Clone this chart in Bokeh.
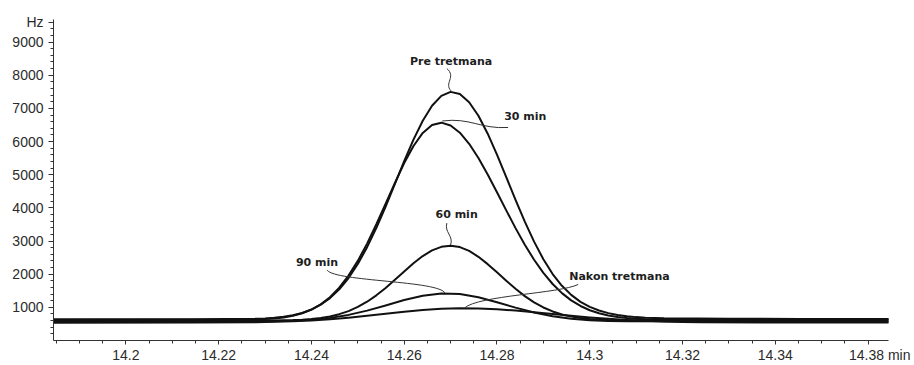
from bokeh.plotting import figure
from bokeh.models import FixedTicker, Range1d
from bokeh.core.properties import value
from bokeh.embed import file_html
from bokeh.resources import INLINE

# ---------------- data ----------------
# retention time (min) / signal (Hz)
pre_x = [14.1844, 14.215, 14.228, 14.230, 14.232, 14.234, 14.236, 14.238, 14.240, 14.242,
         14.244, 14.246, 14.248, 14.250, 14.252, 14.254, 14.256, 14.258, 14.260, 14.262,
         14.264, 14.266, 14.268, 14.270, 14.272, 14.274, 14.276, 14.278, 14.280, 14.282,
         14.284, 14.286, 14.288, 14.290, 14.292, 14.294, 14.296, 14.298, 14.300, 14.302,
         14.304, 14.306, 14.308, 14.310, 14.312, 14.316, 14.330, 14.345, 14.3644]
pre_y = [640, 642, 655, 666, 685, 715, 761, 831, 934, 1079,
         1279, 1544, 1885, 2308, 2814, 3396, 4040, 4722, 5407, 6056,
         6627, 7078, 7377, 7498, 7432, 7185, 6776, 6237, 5607, 4928,
         4242, 3584, 2981, 2451, 2003, 1650, 1375, 1165, 1015, 905,
         825, 770, 730, 705, 688, 668, 655, 650, 648]

m30_x = pre_x
m30_y = [620, 622, 634, 645, 665, 696, 745, 821, 932, 1089,
         1306, 1592, 1956, 2401, 2922, 3506, 4129, 4756, 5350, 5864,
         6259, 6501, 6569, 6483, 6266, 5932, 5504, 5008, 4472, 3924,
         3389, 2888, 2435, 2039, 1704, 1429, 1211, 1041, 913, 820,
         753, 706, 675, 654, 641, 630, 625, 628, 630]

m60_x = [14.1844, 14.215, 14.228, 14.232, 14.236, 14.238, 14.240, 14.242, 14.244, 14.246,
         14.248, 14.250, 14.252, 14.254, 14.256, 14.258, 14.260, 14.262, 14.264, 14.266,
         14.268, 14.270, 14.272, 14.274, 14.276, 14.278, 14.280, 14.282, 14.284, 14.286,
         14.288, 14.290, 14.292, 14.294, 14.296, 14.298, 14.300, 14.302, 14.304, 14.308,
         14.330, 14.345, 14.3644]
m60_y = [600, 600, 601, 605, 616, 628, 648, 679, 726, 794,
         887, 1012, 1170, 1362, 1585, 1830, 2083, 2329, 2546, 2717,
         2825, 2860, 2817, 2702, 2524, 2303, 2055, 1802, 1559, 1339,
         1151, 996, 876, 785, 720, 675, 646, 627, 615, 604,
         600, 600, 600]

m90_x = [14.1844, 14.215, 14.228, 14.232, 14.236, 14.240, 14.244, 14.248, 14.252, 14.256,
         14.260, 14.264, 14.268, 14.272, 14.276, 14.280, 14.284, 14.288, 14.292, 14.296,
         14.300, 14.304, 14.308, 14.330, 14.345, 14.3644]
m90_y = [568, 570, 574, 580, 595, 626, 682, 772, 901, 1057,
         1219, 1350, 1416, 1399, 1302, 1154, 991, 844, 731, 655,
         611, 588, 577, 572, 570, 568]

post_x = [14.1844, 14.215, 14.228, 14.232, 14.236, 14.240, 14.244, 14.248, 14.252, 14.256,
          14.260, 14.264, 14.268, 14.272, 14.276, 14.280, 14.284, 14.288, 14.292, 14.296,
          14.300, 14.304, 14.308, 14.312, 14.316, 14.320, 14.324, 14.340, 14.3644]
post_y = [535, 543, 553, 564, 581, 606, 642, 689, 745, 806,
          866, 919, 955, 970, 963, 939, 901, 852, 799, 746,
          697, 655, 620, 594, 575, 561, 553, 545, 542]

series_x = [pre_x, m30_x, m60_x, m90_x, post_x]
series_y = [pre_y, m30_y, m60_y, m90_y, post_y]
for sx, sy in zip(series_x, series_y):
    assert len(sx) == len(sy)

# annotation texts and their positions (data units)
label_text = ["Pre tretmana", "30 min", "60 min", "90 min", "Nakon tretmana"]
label_x = [14.2701, 14.2861, 14.2713, 14.2412, 14.3064]
label_y = [8412, 6746, 3785, 2364, 1925]

# axis ticks (the reference labels its last tick "14.38"; unit "min" follows it,
# unit "Hz" sits at the top of the y axis)
x_ticks = [14.2, 14.22, 14.24, 14.26, 14.28, 14.3, 14.32, 14.34, 14.36]
x_tick_labels = ["14.2", "14.22", "14.24", "14.26", "14.28", "14.3", "14.32", "14.34", "14.38"]
x_unit = "min"
y_ticks = [1000, 2000, 3000, 4000, 5000, 6000, 7000, 8000, 9000, 9600]
y_tick_labels = ["1000", "2000", "3000", "4000", "5000", "6000", "7000", "8000", "9000", "Hz"]

X_START, X_END = 14.1844, 14.3644
Y_START, Y_END = 0, 9680

TICK_FONT = "Liberation Sans"
TICK_COLOR = "#2b2b2b"
AXIS_COLOR = "#333333"
NBSP = "\u00a0"

p = figure(width=914, height=365, output_backend="svg", toolbar_location=None,
           x_range=Range1d(X_START, X_END), y_range=Range1d(Y_START, Y_END),
           min_border_left=53, min_border_right=26, min_border_top=19, min_border_bottom=0)
p.outline_line_color = None
p.grid.visible = False
p.background_fill_color = "white"
p.border_fill_color = "white"

# x axis
x_minor = [round(14.185 + 0.005 * i, 3) for i in range(36)]
x_labels = list(x_tick_labels)
x_labels[-1] = NBSP * 6 + x_labels[-1] + NBSP + x_unit   # keep number centred on tick
p.xaxis.ticker = FixedTicker(ticks=x_ticks, minor_ticks=x_minor)
p.xaxis.major_label_overrides = dict(zip(x_ticks, x_labels))
# y axis
y_minor = list(range(200, 9680, 200))
p.yaxis.ticker = FixedTicker(ticks=y_ticks, minor_ticks=y_minor)
p.yaxis.major_label_overrides = dict(zip(y_ticks, y_tick_labels))

for ax in (p.xaxis[0], p.yaxis[0]):
    ax.axis_line_color = AXIS_COLOR
    ax.axis_line_width = 1
    ax.major_tick_line_color = AXIS_COLOR
    ax.minor_tick_line_color = AXIS_COLOR
    ax.major_tick_in = 0
    ax.minor_tick_in = 0
    ax.major_label_text_font = TICK_FONT
    ax.major_label_text_font_size = "14px"
    ax.major_label_text_color = TICK_COLOR
p.xaxis.major_tick_out = 4
p.xaxis.minor_tick_out = 3
p.xaxis.major_label_standoff = 2
p.yaxis.major_tick_out = 5
p.yaxis.minor_tick_out = 3
p.yaxis.major_label_standoff = 5

# curves
for sx, sy in zip(series_x, series_y):
    p.line(sx, sy, line_color="#111111", line_width=2, line_join="round", line_cap="round")

# leader lines: from each label towards its curve's apex
def apex(sx, sy):
    i = max(range(len(sy)), key=lambda k: sy[k])
    return sx[i], sy[i]

ax_pre = apex(pre_x, pre_y)
ax_30 = apex(m30_x, m30_y)
ax_60 = apex(m60_x, m60_y)
ax_90 = apex(m90_x, m90_y)
ax_post = apex(post_x, post_y)

p.bezier(
    x0=[label_x[0] - 0.0009, ax_30[0] + 0.0002, 14.2692, 14.2434, 14.2975],
    y0=[8200, ax_30[1] + 50, 3540, 2120, 1690],
    x1=[ax_pre[0] + 0.0001, 14.2824, ax_60[0], ax_90[0] + 0.0008, ax_post[0] + 0.001],
    y1=[ax_pre[1] + 30, 6423, ax_60[1] + 20, ax_90[1] + 10, ax_post[1] + 10],
    cx0=[label_x[0] + 0.0012, 14.2742, 14.2686, 14.2451, 14.2936],
    cy0=[7950, 6730, 3270, 1776, 1418],
    cx1=[label_x[0] - 0.0016, 14.2764, 14.2707, 14.2677, 14.2759],
    cy1=[7760, 6373, 3150, 1806, 1358],
    line_color="#333333", line_width=1,
)

p.text(x=label_x, y=label_y, text=label_text,
       text_font=value("DejaVu Sans"), text_font_style="bold", text_font_size="11px",
       text_align="center", text_baseline="middle", text_color="#1e1e1e")

open("out.html", "w").write(file_html(p, INLINE))
